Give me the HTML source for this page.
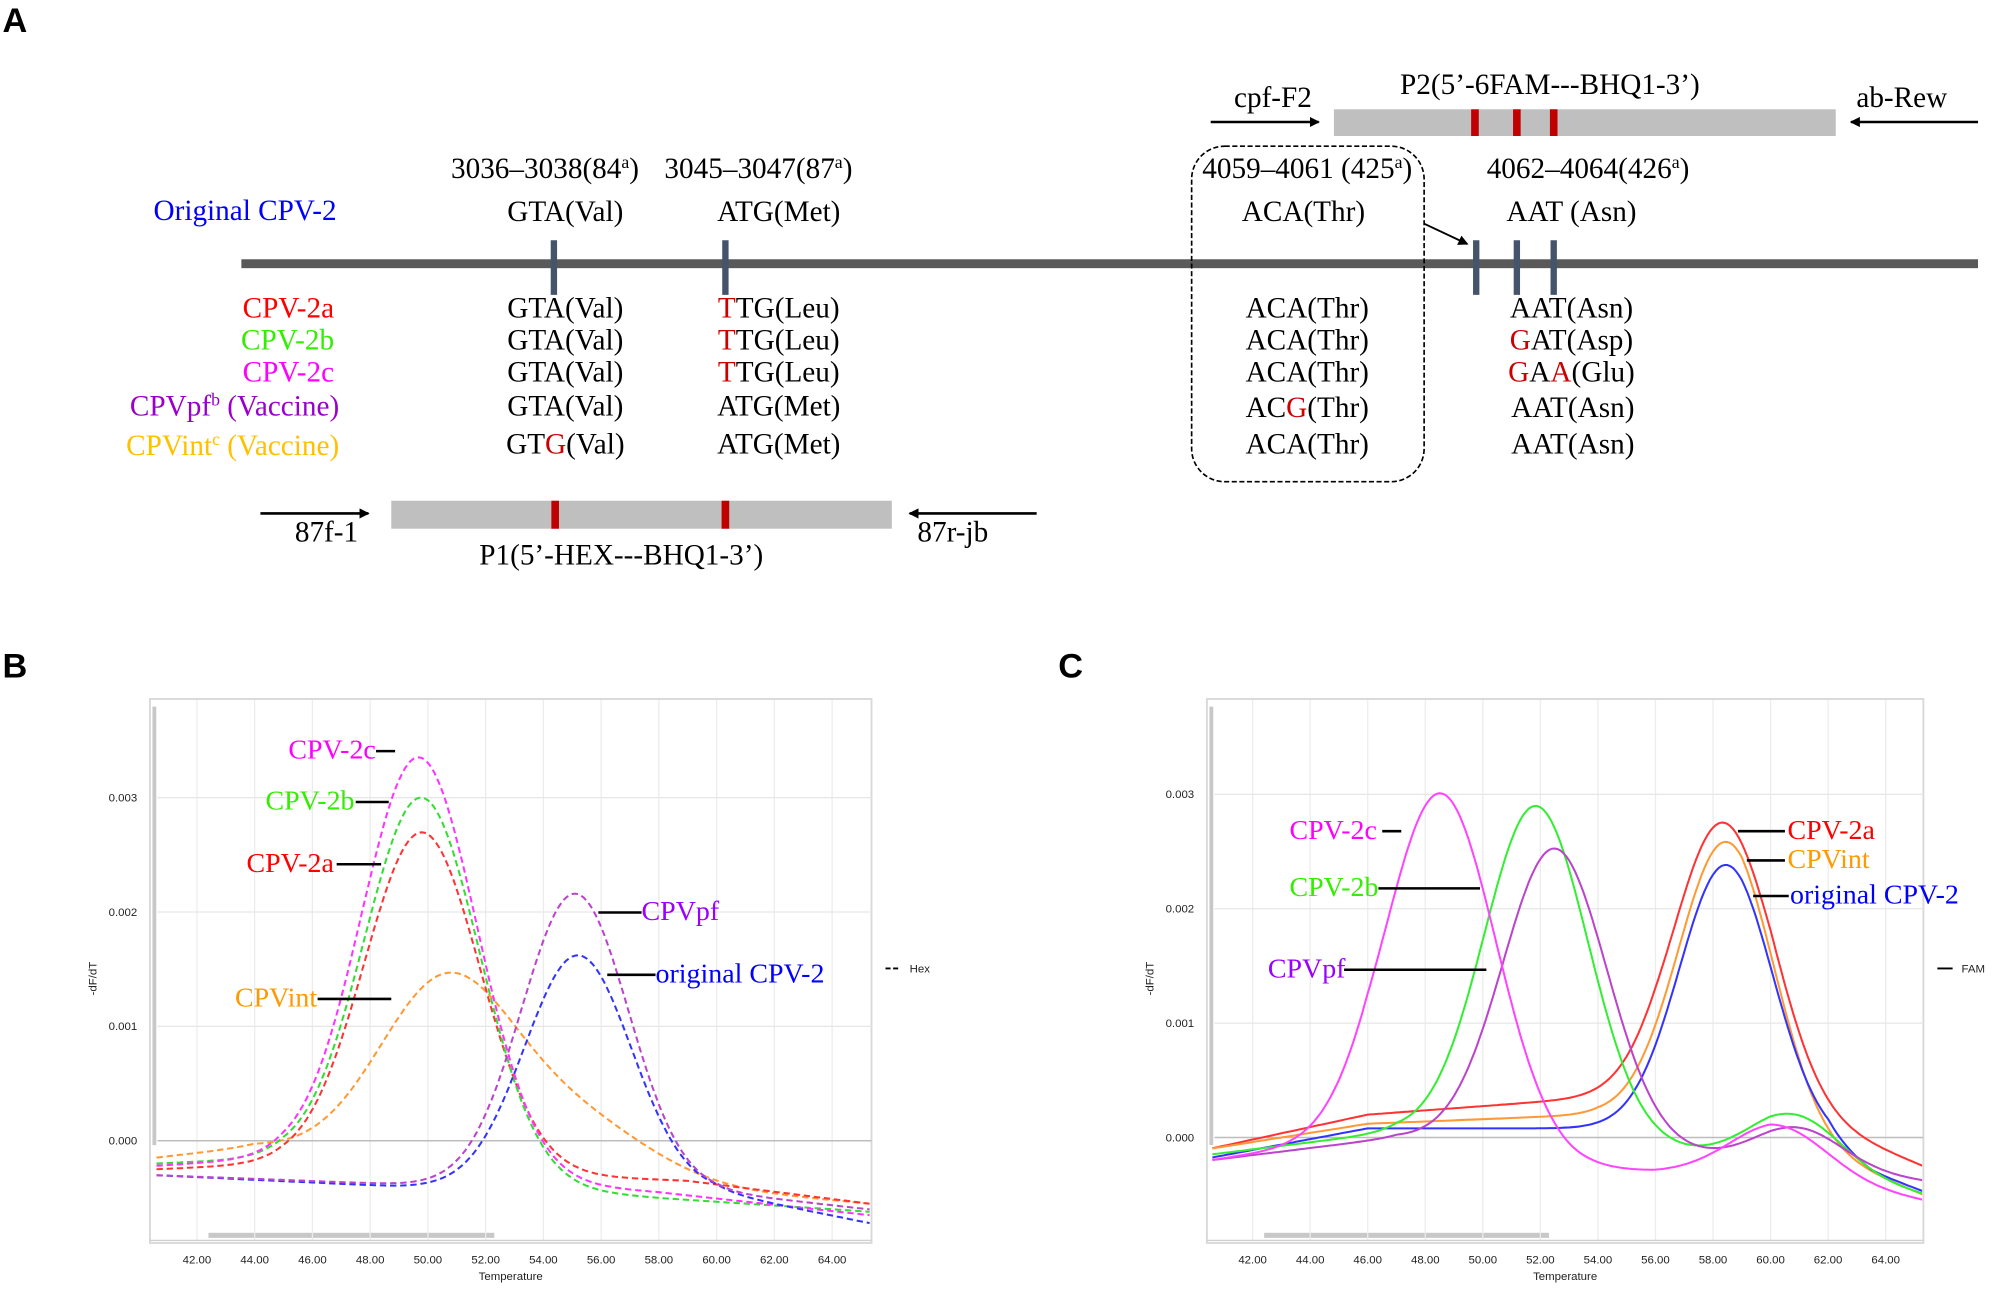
<!DOCTYPE html>
<html><head><meta charset="utf-8"><style>
html,body{margin:0;padding:0;background:#fff;}
svg{display:block;}
.t{font-family:"Liberation Serif",serif;font-size:23px;}
.s{font-family:"Liberation Sans",sans-serif;font-size:9px;fill:#222;}
.lb{font-family:"Liberation Serif",serif;font-size:22px;}
</style></head><body>
<svg id="S" width="1992" height="1290" viewBox="0 0 1568 1015" preserveAspectRatio="none" xmlns="http://www.w3.org/2000/svg">
<defs>
<marker id="ar" markerWidth="8" markerHeight="8" refX="7" refY="4" orient="auto" markerUnits="userSpaceOnUse"><path d="M0,0 L8,4 L0,8 Z" fill="#000"/></marker>
<clipPath id="cB"><rect x="118" y="550" width="567" height="426"/></clipPath>
<clipPath id="cC"><rect x="950" y="550" width="563" height="426"/></clipPath>
</defs>
<!-- Panel A -->
<text x="2" y="25" font-family="Liberation Sans" font-weight="bold" font-size="27">A</text>
<rect x="1050" y="86" width="395" height="21" fill="#bfbfbf"/>
<rect x="1158" y="86" width="6" height="21" fill="#c00000"/>
<rect x="1191" y="86" width="6" height="21" fill="#c00000"/>
<rect x="1220" y="86" width="6" height="21" fill="#c00000"/>
<line x1="953" y1="96" x2="1038" y2="96" stroke="#000" stroke-width="2" marker-end="url(#ar)"/>
<line x1="1557" y1="96" x2="1457" y2="96" stroke="#000" stroke-width="2" marker-end="url(#ar)"/>
<text class="t" x="1002" y="84" text-anchor="middle">cpf-F2</text>
<text class="t" x="1220" y="74" text-anchor="middle">P2(5’-6FAM---BHQ1-3’)</text>
<text class="t" x="1497" y="84" text-anchor="middle">ab-Rew</text>

<text class="t" x="429" y="140" text-anchor="middle">3036–3038(84<tspan font-size="14" dy="-8">a</tspan><tspan dy="8">)</tspan></text>
<text class="t" x="597" y="140" text-anchor="middle">3045–3047(87<tspan font-size="14" dy="-8">a</tspan><tspan dy="8">)</tspan></text>
<text class="t" x="1029" y="140" text-anchor="middle">4059–4061 (425<tspan font-size="14" dy="-8">a</tspan><tspan dy="8">)</tspan></text>
<text class="t" x="1250" y="140" text-anchor="middle">4062–4064(426<tspan font-size="14" dy="-8">a</tspan><tspan dy="8">)</tspan></text>

<text class="t" x="265" y="173" text-anchor="end" fill="#0000ff">Original CPV-2</text>
<text class="t" x="445" y="174" text-anchor="middle">GTA(Val)</text>
<text class="t" x="613" y="174" text-anchor="middle">ATG(Met)</text>
<text class="t" x="1026" y="174" text-anchor="middle">ACA(Thr)</text>
<text class="t" x="1237" y="174" text-anchor="middle">AAT (Asn)</text>

<rect x="190" y="204" width="1367" height="7" fill="#595959"/>
<g stroke="#44546a" stroke-width="5">
<line x1="436" y1="189" x2="436" y2="232"/><line x1="571" y1="189" x2="571" y2="232"/>
<line x1="1162" y1="189" x2="1162" y2="232"/><line x1="1194" y1="189" x2="1194" y2="232"/><line x1="1223" y1="189" x2="1223" y2="232"/>
</g>
<line x1="1121" y1="176" x2="1155" y2="192" stroke="#000" stroke-width="1.5" marker-end="url(#ar)"/>
<rect x="938" y="115" width="183" height="264" rx="26" fill="none" stroke="#000" stroke-width="1.3" stroke-dasharray="4,2"/>

<g class="t">
<text x="263" y="250" text-anchor="end" fill="#ff0000">CPV-2a</text>
<text x="263" y="275" text-anchor="end" fill="#33ee00">CPV-2b</text>
<text x="263" y="300" text-anchor="end" fill="#ff00ff">CPV-2c</text>
<text x="267" y="327" text-anchor="end" fill="#9900cc">CPVpf<tspan font-size="14" dy="-8">b</tspan><tspan dy="8"> (Vaccine)</tspan></text>
<text x="267" y="358" text-anchor="end" fill="#ffc000">CPVint<tspan font-size="14" dy="-8">c</tspan><tspan dy="8"> (Vaccine)</tspan></text>
<text x="445" y="250" text-anchor="middle">GTA(Val)</text>
<text x="445" y="275" text-anchor="middle">GTA(Val)</text>
<text x="445" y="300" text-anchor="middle">GTA(Val)</text>
<text x="445" y="327" text-anchor="middle">GTA(Val)</text>
<text x="445" y="357" text-anchor="middle">GT<tspan fill="#cc0000">G</tspan>(Val)</text>
<text x="613" y="250" text-anchor="middle"><tspan fill="#cc0000">T</tspan>TG(Leu)</text>
<text x="613" y="275" text-anchor="middle"><tspan fill="#cc0000">T</tspan>TG(Leu)</text>
<text x="613" y="300" text-anchor="middle"><tspan fill="#cc0000">T</tspan>TG(Leu)</text>
<text x="613" y="327" text-anchor="middle">ATG(Met)</text>
<text x="613" y="357" text-anchor="middle">ATG(Met)</text>
<text x="1029" y="250" text-anchor="middle">ACA(Thr)</text>
<text x="1029" y="275" text-anchor="middle">ACA(Thr)</text>
<text x="1029" y="300" text-anchor="middle">ACA(Thr)</text>
<text x="1029" y="328" text-anchor="middle">AC<tspan fill="#cc0000">G</tspan>(Thr)</text>
<text x="1029" y="357" text-anchor="middle">ACA(Thr)</text>
<text x="1237" y="250" text-anchor="middle">AAT(Asn)</text>
<text x="1237" y="275" text-anchor="middle"><tspan fill="#cc0000">G</tspan>AT(Asp)</text>
<text x="1237" y="300" text-anchor="middle"><tspan fill="#cc0000">G</tspan>A<tspan fill="#cc0000">A</tspan>(Glu)</text>
<text x="1238" y="328" text-anchor="middle">AAT(Asn)</text>
<text x="1238" y="357" text-anchor="middle">AAT(Asn)</text>
</g>

<rect x="308" y="394" width="394" height="22" fill="#bfbfbf"/>
<rect x="434" y="394" width="6" height="22" fill="#c00000"/>
<rect x="568" y="394" width="6" height="22" fill="#c00000"/>
<line x1="205" y1="404" x2="290" y2="404" stroke="#000" stroke-width="2" marker-end="url(#ar)"/>
<line x1="816" y1="404" x2="716" y2="404" stroke="#000" stroke-width="2" marker-end="url(#ar)"/>
<text class="t" x="257" y="426" text-anchor="middle">87f-1</text>
<text class="t" x="750" y="426" text-anchor="middle">87r-jb</text>
<text class="t" x="489" y="444" text-anchor="middle">P1(5’-HEX---BHQ1-3’)</text>

<!-- Panels B/C -->
<text x="2" y="533" font-family="Liberation Sans" font-weight="bold" font-size="27">B</text>
<text x="833" y="533" font-family="Liberation Sans" font-weight="bold" font-size="27">C</text>
<g id="B"></g>
<g id="C"></g>
</svg>
<script>
var NS="http://www.w3.org/2000/svg";
function el(p,t,a,txt){var e=document.createElementNS(NS,t);for(var k in a)e.setAttribute(k,a[k]);if(txt!==undefined)e.textContent=txt;p.appendChild(e);return e;}
function lin(T,p){if(T<=p[0][0])return p[0][1];for(var i=1;i<p.length;i++){if(T<=p[i][0]){var a=p[i-1],b=p[i];return a[1]+(b[1]-a[1])*(T-a[0])/(b[0]-a[0]);}}return p[p.length-1][1];}
function panel(g,o){
 el(g,'rect',{x:o.L,y:550,width:o.R-o.L,height:428,fill:'#fff',stroke:'#d9d9d9','stroke-width':1.5});
 el(g,'rect',{x:o.L+2,y:556,width:3,height:345,fill:'#c8c8c8'});
 el(g,'rect',{x:o.X(42.4),y:970,width:o.X(52.3)-o.X(42.4),height:4,fill:'#c8c8c8'});
 for(var t=42;t<=64;t+=2){var x=o.X(t);
  el(g,'line',{x1:x,y1:551,x2:x,y2:976,stroke:'#ececec','stroke-width':1});
  el(g,'text',{x:x,y:994,'text-anchor':'middle','class':'s'},t.toFixed(2));}
 for(var v=1;v<=3;v++){var y=o.Y(v);el(g,'line',{x1:o.L+6,y1:y,x2:o.R,y2:y,stroke:'#e6e6e6','stroke-width':1});
  el(g,'text',{x:o.L-10,y:y+3,'text-anchor':'end','class':'s'},'0.00'+v);}
 el(g,'line',{x1:o.L+6,y1:o.Y(0),x2:o.R,y2:o.Y(0),stroke:'#bdbdbd','stroke-width':1.2});
 el(g,'text',{x:o.L-10,y:o.Y(0)+3,'text-anchor':'end','class':'s'},'0.000');
 el(g,'line',{x1:o.L,y1:976,x2:o.R,y2:976,stroke:'#d0d0d0'});
 el(g,'text',{x:(o.L+o.R)/2,y:1007,'text-anchor':'middle','class':'s'},'Temperature');
 el(g,'text',{x:0,y:0,'class':'s',transform:'translate('+(o.L-42)+',770) rotate(-90)','text-anchor':'middle'},'-dF/dT');
 var cg=el(g,'g',{'clip-path':o.clip});
 o.curves.forEach(function(c){var d='';for(var T=40.6;T<=65.35;T+=0.1){var v=lin(T,c.b);c.g.forEach(function(q){v+=q[0]*Math.exp(-(T-q[1])*(T-q[1])/(2*q[2]*q[2]));});
   d+=(d?'L':'M')+o.X(T).toFixed(1)+','+o.Y(v).toFixed(1);}
  var a={d:d,fill:'none',stroke:c.c,'stroke-width':1.6};if(o.dash)a['stroke-dasharray']='5,3';el(cg,'path',a);});
 o.labels.forEach(function(l){el(g,'text',{x:l[1],y:l[2],fill:l[3],'class':'lb'},l[0]);el(g,'line',{x1:l[4],y1:l[2]-6,x2:l[5],y2:l[2]-6,stroke:'#000','stroke-width':2});});
 el(g,'line',{x1:o.lx,y1:762,x2:o.lx+12,y2:762,stroke:'#000','stroke-width':1.5,'stroke-dasharray':o.dash?'4,2':'none'});
 el(g,'text',{x:o.lx+19,y:765,'class':'s'},o.leg);
}
panel(document.getElementById('B'),{L:118,R:686,clip:'url(#cB)',X:function(T){return 155+(T-42)*22.727;},Y:function(v){return 897.6-v*90;},dash:true,lx:697,leg:'Hex',
curves:[
{c:'#ff9933',b:[[40.5,-0.15],[44,-0.05],[65.3,-0.55]],g:[[1.55,50.6,2.3],[0.5,55,2.6]]},
{c:'#ff3333',b:[[40.5,-0.25],[45,-0.2],[54,-0.3],[59,-0.35],[65.3,-0.55]],g:[[2.95,49.8,2.0]]},
{c:'#33dd33',b:[[40.5,-0.2],[45,-0.15],[53,-0.4],[58,-0.5],[65.3,-0.62]],g:[[3.3,49.8,2.0]]},
{c:'#ff33ff',b:[[40.5,-0.22],[45,-0.15],[53,-0.35],[58,-0.45],[65.3,-0.65]],g:[[3.62,49.7,2.0]]},
{c:'#3333ff',b:[[40.5,-0.3],[49,-0.4],[60,-0.45],[65.3,-0.72]],g:[[2.05,55.2,1.85]]},
{c:'#bb44cc',b:[[40.5,-0.3],[49,-0.38],[60,-0.45],[65.3,-0.6]],g:[[2.58,55.1,1.85]]}],
labels:[['CPV-2c',227,597,'#ff00ff',296,311],['CPV-2b',209,637,'#33ee00',280,306],['CPV-2a',194,686,'#ff0000',265,300],['CPVint',185,792,'#ff9900',250,308],['CPVpf',505,724,'#9900ff',471,505],['original CPV-2',516,773,'#0000ff',478,516]]});
panel(document.getElementById('C'),{L:950,R:1514,clip:'url(#cC)',X:function(T){return 986+(T-42)*22.65;},Y:function(v){return 895-v*90;},dash:false,lx:1525,leg:'FAM',
curves:[
{c:'#ff3333',b:[[40.5,-0.1],[46,0.2],[53,0.33],[56,0.38],[60,0.3],[65.3,-0.25]],g:[[2.42,58.35,1.7]]},
{c:'#ff9933',b:[[40.5,-0.1],[46,0.12],[54,0.2],[59,0.15],[65.3,-0.5]],g:[[2.43,58.45,1.65]]},
{c:'#3333ff',b:[[40.5,-0.18],[46,0.08],[54,0.08],[59,0.05],[62,-0.05],[63.5,-0.3],[65.3,-0.47]],g:[[2.33,58.45,1.62]]},
{c:'#33ee33',b:[[40.5,-0.15],[47,0.05],[56,-0.1],[60,-0.2],[65.3,-0.5]],g:[[2.93,51.85,1.8],[0.45,60.9,1.6]]},
{c:'#bb44cc',b:[[40.5,-0.2],[47,0.0],[56,-0.12],[60,-0.2],[65.3,-0.38]],g:[[2.6,52.5,1.8],[0.32,61,1.5]]},
{c:'#ff44ff',b:[[40.5,-0.2],[46,0.0],[53,-0.25],[56,-0.3],[60,-0.3],[65.3,-0.55]],g:[[3.1,48.55,1.9],[0.42,60.3,1.7]]}],
labels:[['CPV-2c',1015,660,'#ff00ff',1088,1103],['CPV-2b',1015,705,'#33ee00',1085,1165],['CPVpf',998,769,'#9900ff',1058,1170],['CPV-2a',1407,660,'#ff0000',1368,1405],['CPVint',1407,683,'#ff9900',1375,1405],['original CPV-2',1409,711,'#0000ff',1380,1408]]});
</script>
</body></html>
